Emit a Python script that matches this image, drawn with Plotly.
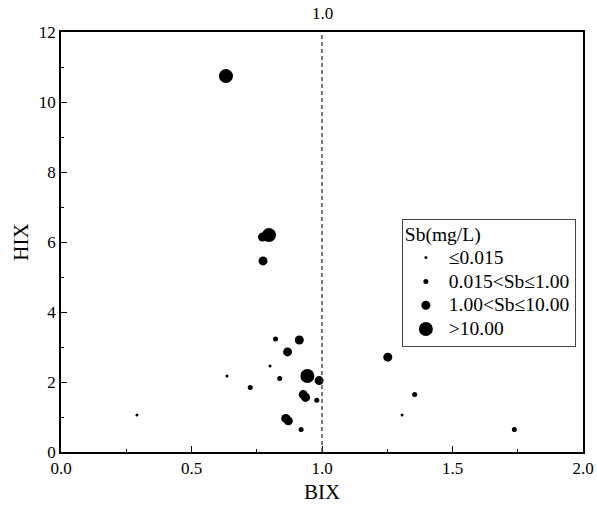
import plotly.graph_objects as go

# Data (BIX, HIX) grouped by Sb concentration class
tiny_bix = [0.291, 0.636, 0.801, 1.307]
tiny_hix = [1.06, 2.17, 2.46, 1.06]

small_bix = [0.822, 0.838, 0.725, 0.980, 0.920, 1.355, 1.737]
small_hix = [3.23, 2.10, 1.84, 1.48, 0.64, 1.64, 0.64]

medium_bix = [0.772, 0.774, 0.913, 0.868, 1.252, 0.989, 0.928, 0.937, 0.861, 0.871]
medium_hix = [6.14, 5.46, 3.20, 2.86, 2.71, 2.04, 1.64, 1.56, 0.96, 0.89]

large_bix = [0.632, 0.797, 0.944]
large_hix = [10.74, 6.20, 2.17]

class_names = ["≤0.015", "0.015&lt;Sb≤1.00", "1.00&lt;Sb≤10.00", "&gt;10.00"]
legend_title = "Sb(mg/L)"
x_ticks = [0.0, 0.5, 1.0, 1.5, 2.0]
x_tick_text = ["0.0", "0.5", "1.0", "1.5", "2.0"]
y_ticks = [0, 2, 4, 6, 8, 10, 12]

FONT = "Liberation Serif"


def big(t):
    return "<span style='font-size:19.5px'>" + t + "</span>"


fig = go.Figure()
groups = [
    (tiny_bix, tiny_hix, 3),
    (small_bix, small_hix, 5),
    (medium_bix, medium_hix, 9),
    (large_bix, large_hix, 14),
]
for (xs, ys, sz), name in zip(groups, class_names):
    fig.add_trace(go.Scatter(
        x=xs, y=ys, mode="markers", name=big(name),
        marker=dict(color="black", size=sz, line=dict(width=0)),
    ))

fig.add_shape(type="line", x0=1.0, x1=1.0, y0=0, y1=1, xref="x", yref="paper",
              line=dict(color="#333333", width=1.3, dash="4px,3px"))
fig.add_annotation(x=1.0, y=1, xref="x", yref="paper", text="1.0",
                   showarrow=False, yanchor="bottom", yshift=7,
                   font=dict(family=FONT, size=17, color="black"))

fig.update_layout(
    width=597, height=515,
    margin=dict(l=61, r=14, t=32, b=63),
    paper_bgcolor="white", plot_bgcolor="white",
    font=dict(family=FONT, size=17, color="black"),
    showlegend=True,
    legend=dict(
        title=dict(text=big(legend_title), font=dict(family=FONT, size=16)),
        font=dict(family=FONT, size=16),
        x=0.653, y=0.555, xanchor="left", yanchor="top",
        bordercolor="#444444", borderwidth=1, bgcolor="white",
        itemsizing="trace", tracegroupgap=0, itemwidth=36,
    ),
    xaxis=dict(
        range=[0, 2], tickvals=x_ticks, ticktext=x_tick_text,
        ticks="inside", ticklen=6, tickwidth=1.3, tickcolor="black",
        minor=dict(ticks="inside", ticklen=3, dtick=0.25, tickwidth=1.3, tickcolor="black"),
        showline=True, linecolor="black", linewidth=1.8, mirror=True,
        showgrid=False, zeroline=False, automargin=False,
        title=dict(text="BIX", font=dict(family=FONT, size=21), standoff=7),
        tickfont=dict(family=FONT, size=17),
    ),
    yaxis=dict(
        range=[0, 12], tickvals=y_ticks,
        ticks="inside", ticklen=6, tickwidth=1.3, tickcolor="black",
        minor=dict(ticks="inside", ticklen=3, dtick=1, tickwidth=1.3, tickcolor="black"),
        showline=True, linecolor="black", linewidth=1.8, mirror=True,
        showgrid=False, zeroline=False, automargin=False,
        title=dict(text="HIX", font=dict(family=FONT, size=21), standoff=4),
        tickfont=dict(family=FONT, size=17),
    ),
)

fig.write_html(
    "out.html",
    config={"displayModeBar": False},
    post_script="document.body.style.margin='0';document.body.style.padding='0';"
                "document.body.style.overflow='hidden';",
)
